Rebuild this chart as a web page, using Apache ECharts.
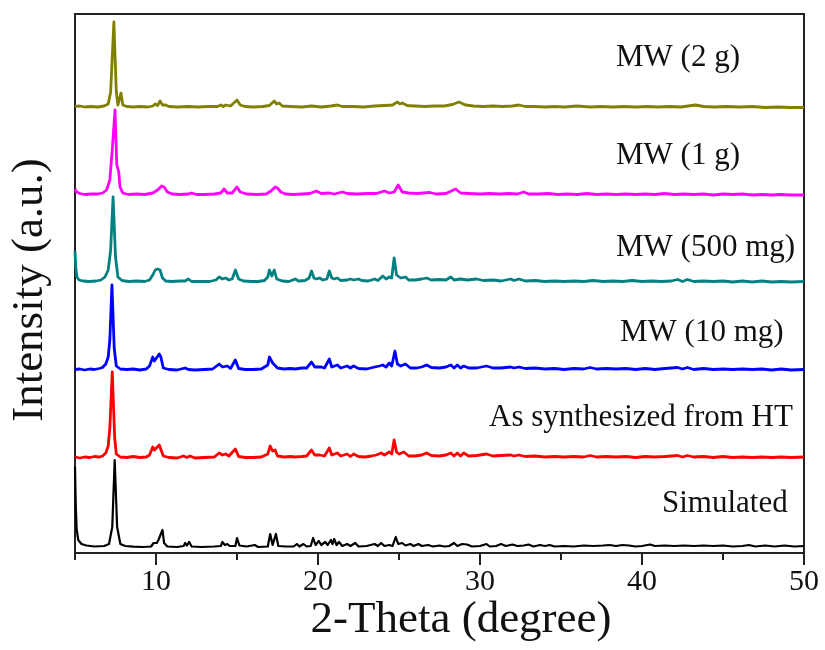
<!DOCTYPE html>
<html>
<head>
<meta charset="utf-8">
<script src="https://cdn.jsdelivr.net/npm/echarts@6/dist/echarts.min.js"></script>
<style>
  html, body { margin: 0; padding: 0; background: #fff; }
  #chart { width: 825px; height: 650px; }
</style>
</head>
<body>
<div id="chart"></div>
<script>
// XRD patterns: [2-theta (deg), relative intensity above each pattern's baseline]
const simulated = [
  [5.0, 80], [5.05, 40], [5.1, 18], [5.2, 7], [5.4, 3], [5.7, 1.5], [6.2, 0.5], [6.8, 1], [7.1, 3], [7.3, 20],
  [7.45, 87], [7.6, 20], [7.8, 3], [8.1, 1], [8.6, 0.3], [9.2, 0], [9.7, 0.5], [9.85, 4], [9.95, 6], [10.05, 4],
  [10.15, 7], [10.25, 5], [10.4, 17], [10.5, 4], [10.7, 0.5], [11.3, 0], [11.7, 1], [11.8, 4], [11.9, 1.5], [12.05, 5],
  [12.2, 0.5], [12.8, 0], [13.6, 0.5], [14.0, 1], [14.1, 5], [14.25, 2], [14.4, 3], [14.55, 1], [14.9, 1], [15.0, 9],
  [15.15, 1.5], [15.6, 0.5], [16.1, 2], [16.3, 0], [16.9, 0.5], [17.05, 13], [17.2, 2], [17.4, 13], [17.55, 1], [18.0, 0.5],
  [18.5, 0.5], [18.7, 3], [18.85, 0.5], [19.1, 3], [19.3, 0.5], [19.55, 1], [19.7, 9], [19.85, 2], [20.05, 6], [20.2, 2],
  [20.45, 5], [20.6, 2], [20.8, 7], [20.9, 3], [21.0, 8], [21.15, 2], [21.3, 5], [21.5, 1], [21.8, 3], [22.0, 1],
  [22.3, 4], [22.5, 0.5], [23.0, 1], [23.5, 3], [23.7, 1], [23.9, 4], [24.1, 1], [24.4, 2], [24.6, 1], [24.8, 10],
  [24.95, 3], [25.2, 4], [25.4, 1.5], [25.7, 3], [25.9, 1], [26.2, 3], [26.4, 1], [26.8, 2], [27.1, 0.5], [27.5, 1.5],
  [27.8, 0.5], [28.1, 1], [28.4, 4], [28.6, 1], [28.9, 3], [29.2, 2.5], [29.5, 0.5], [30.0, 1], [30.4, 3], [30.6, 0.5],
  [31.0, 1], [31.3, 3], [31.6, 1], [32.0, 2.5], [32.3, 1], [32.7, 1.5], [33.0, 2.5], [33.3, 0.5], [33.7, 2], [34.0, 1],
  [34.3, 2], [34.6, 0.5], [35.2, 1], [35.8, 0.5], [36.4, 1.5], [37.0, 1], [37.6, 1.5], [38.0, 2], [38.4, 1], [38.8, 2],
  [39.2, 1.5], [39.6, 0.5], [40.0, 1], [40.5, 2.5], [40.8, 1], [41.4, 1.5], [42.0, 1], [42.6, 1.5], [43.2, 1], [43.8, 1.5],
  [44.4, 1], [45.0, 1.5], [45.6, 0.5], [46.2, 1], [46.6, 2], [47.0, 0.5], [47.6, 1.5], [48.2, 0.5], [48.8, 1.5], [49.4, 0.5],
  [50.0, 1]
];

const hydrothermal = [
  [5.0, 1], [5.3, 0], [5.6, 1], [5.9, 0.5], [6.2, 1.5], [6.5, 1], [6.7, 2], [6.9, 5], [7.05, 12], [7.15, 30],
  [7.3, 86], [7.45, 20], [7.55, 4], [7.8, 1], [8.2, 0.5], [8.6, 1.5], [9.0, 0.5], [9.4, 1], [9.6, 3], [9.8, 11],
  [9.9, 8], [10.0, 9], [10.2, 13], [10.3, 12], [10.45, 2], [10.8, 0.5], [11.3, 0], [11.7, 2], [11.9, 0.5], [12.1, 2],
  [12.4, 0], [13.0, 0.5], [13.6, 1], [13.9, 5], [14.1, 3], [14.3, 4], [14.5, 2], [14.9, 9], [15.1, 1.5], [15.5, 0.5],
  [16.0, 0.5], [16.5, 1], [16.9, 4], [17.05, 12], [17.2, 7], [17.35, 8], [17.5, 2], [17.9, 1], [18.3, 1.5], [18.6, 1],
  [19.0, 1.5], [19.3, 2], [19.6, 8], [19.8, 3], [20.1, 3], [20.4, 2], [20.7, 10], [20.85, 3], [21.2, 5], [21.4, 2],
  [21.8, 4], [22.0, 1.5], [22.2, 4], [22.5, 1.5], [22.9, 1], [23.3, 2], [23.6, 3], [23.9, 5], [24.1, 3], [24.4, 6],
  [24.55, 4], [24.7, 18], [24.85, 6], [25.0, 4], [25.3, 6], [25.6, 2], [26.0, 2], [26.4, 3], [26.7, 5], [27.0, 2.5],
  [27.5, 2], [27.9, 3], [28.2, 5], [28.4, 2], [28.6, 5], [28.8, 2], [29.0, 5], [29.3, 2], [29.8, 2.5], [30.4, 4],
  [30.8, 2], [31.3, 2.5], [31.9, 3], [32.1, 2], [32.4, 3], [32.8, 1.5], [33.4, 2], [34.0, 1], [34.6, 1.5], [35.2, 1],
  [35.8, 1.5], [36.4, 1], [36.8, 2.5], [37.2, 1], [37.8, 1.5], [38.4, 1], [39.0, 1.5], [39.6, 0.5], [40.2, 1.5], [40.8, 1],
  [41.4, 1.5], [42.2, 2.5], [42.5, 1], [42.8, 2.5], [43.2, 1], [43.8, 1.5], [44.4, 0.5], [45.0, 1.5], [45.6, 0.5], [46.2, 1],
  [46.8, 0.5], [47.4, 1], [48.0, 0.5], [48.6, 1], [49.2, 0.5], [50.0, 1]
];

const mw10mg = [
  [5.0, 0.5], [5.3, 1], [5.6, 0], [5.9, 1], [6.2, 0.5], [6.5, 1.5], [6.7, 2.5], [6.9, 6], [7.05, 13], [7.15, 30],
  [7.28, 85], [7.42, 22], [7.55, 4], [7.8, 1], [8.2, 0.5], [8.6, 1], [9.0, 0], [9.4, 1], [9.6, 4], [9.8, 13],
  [9.9, 9], [10.0, 9], [10.2, 16], [10.3, 13], [10.45, 2], [10.8, 0.5], [11.3, 0], [11.8, 2], [12.0, 0.5], [12.1, 2],
  [12.4, 0], [13.0, 0.5], [13.5, 1], [13.9, 6], [14.1, 3], [14.4, 4], [14.6, 1.5], [14.9, 10], [15.1, 1.5], [15.5, 0.5],
  [16.0, 0.5], [16.5, 1], [16.9, 5], [17.0, 13], [17.2, 7], [17.3, 8], [17.5, 2], [17.9, 1], [18.3, 1.5], [18.6, 1],
  [19.0, 2], [19.3, 2], [19.6, 8], [19.8, 3], [20.2, 3], [20.4, 2], [20.7, 11], [20.85, 3], [21.2, 5], [21.4, 2],
  [21.8, 4], [22.0, 2], [22.2, 4], [22.5, 1.5], [23.0, 1], [23.5, 3], [23.8, 4], [24.0, 5], [24.2, 3], [24.4, 7],
  [24.55, 4], [24.75, 19], [24.9, 6], [25.1, 4], [25.4, 6], [25.7, 2], [26.1, 2], [26.4, 3], [26.7, 5], [27.0, 2.5],
  [27.5, 2], [27.9, 3], [28.2, 5], [28.4, 2], [28.6, 5], [28.8, 2], [29.0, 4], [29.3, 2], [29.8, 2], [30.4, 4],
  [30.8, 2], [31.3, 2], [31.9, 3], [32.1, 2], [32.4, 3], [32.8, 1.5], [33.4, 2], [34.0, 1], [34.6, 1.5], [35.2, 0.5],
  [35.8, 1.5], [36.4, 1], [36.8, 2.5], [37.2, 1], [37.8, 1.5], [38.4, 1], [39.0, 1.5], [39.6, 0.5], [40.2, 1.5], [40.8, 0.5],
  [41.4, 1.5], [42.2, 2.5], [42.5, 1], [42.8, 2.5], [43.2, 0.5], [43.8, 1.5], [44.4, 0.5], [45.0, 1], [45.6, 0.5], [46.2, 1],
  [46.8, 0.5], [47.4, 1], [48.0, 0], [48.6, 1], [49.2, 0], [50.0, 0.5]
];

const mw500mg = [
  [5.0, 31], [5.05, 14], [5.12, 5], [5.25, 2], [5.5, 1], [5.9, 0.5], [6.3, 1], [6.6, 2], [6.85, 5], [7.05, 12],
  [7.2, 32], [7.35, 85], [7.5, 25], [7.65, 5], [7.9, 1.5], [8.3, 0.5], [8.8, 1], [9.3, 0.5], [9.6, 2], [9.8, 7],
  [9.95, 12], [10.1, 13], [10.25, 12], [10.4, 4], [10.6, 1], [11.0, 0.5], [11.5, 1], [11.8, 1], [12.0, 3], [12.2, 0.5],
  [12.8, 0.5], [13.3, 0.5], [13.7, 2], [13.9, 5], [14.1, 3], [14.3, 4], [14.5, 2], [14.7, 3], [14.9, 12], [15.1, 3],
  [15.4, 1], [15.9, 0.5], [16.3, 0.5], [16.7, 1.5], [16.9, 5], [17.0, 12], [17.15, 6], [17.3, 12], [17.45, 3], [17.8, 1],
  [18.2, 0.5], [18.6, 3], [18.8, 1], [19.2, 1.5], [19.45, 4], [19.6, 11], [19.75, 4], [19.9, 3], [20.1, 4], [20.3, 2],
  [20.55, 3], [20.7, 11], [20.85, 4], [21.0, 3], [21.2, 4], [21.4, 1.5], [21.8, 2], [22.0, 3], [22.2, 2], [22.5, 3],
  [22.7, 1.5], [23.1, 1], [23.5, 3], [23.7, 1.5], [24.0, 6], [24.2, 3], [24.4, 5], [24.55, 4], [24.7, 24], [24.85, 7],
  [25.1, 4], [25.4, 5], [25.6, 2], [26.0, 2], [26.4, 3], [26.7, 4], [27.0, 2], [27.5, 2.5], [27.9, 2], [28.2, 5],
  [28.4, 2], [28.8, 3], [29.2, 2], [29.8, 3], [30.2, 1.5], [30.8, 2], [31.3, 1], [31.9, 3], [32.1, 1.5], [32.4, 3],
  [32.8, 1], [33.4, 1.5], [34.0, 0.5], [34.6, 1], [35.2, 0.5], [35.8, 1], [36.4, 0.5], [37.0, 1.5], [37.6, 0.5], [38.2, 1],
  [38.8, 0.5], [39.4, 1.5], [40.0, 0.5], [40.6, 1], [41.2, 0.5], [41.8, 1], [42.2, 2.5], [42.5, 0.5], [42.8, 2.5], [43.2, 0.5],
  [43.8, 1], [44.4, 0.5], [45.0, 1], [45.6, 0], [46.2, 1], [46.8, 0], [47.4, 1], [48.0, 0], [48.6, 0.5], [49.2, 0],
  [50.0, 0.5]
];

const mw1g = [
  [5.0, 6], [5.1, 3], [5.3, 1.5], [5.6, 0.5], [6.0, 1], [6.4, 1], [6.7, 2], [6.95, 5], [7.15, 15], [7.3, 45],
  [7.47, 85], [7.58, 30], [7.7, 23], [7.78, 8], [7.95, 2], [8.3, 0.5], [8.8, 1], [9.3, 0.5], [9.8, 2], [10.1, 5],
  [10.35, 9], [10.5, 8], [10.7, 3], [11.0, 1], [11.5, 0.5], [12.0, 1], [12.2, 2], [12.5, 0.5], [13.0, 0.5], [13.6, 1],
  [14.0, 2], [14.2, 6], [14.4, 2], [14.7, 2], [15.0, 8], [15.2, 3], [15.6, 1], [16.2, 0.5], [16.8, 1], [17.1, 4],
  [17.35, 8], [17.5, 7], [17.7, 3], [18.0, 1], [18.5, 0.5], [19.0, 1], [19.5, 1.5], [19.9, 4], [20.2, 1.5], [20.7, 2],
  [21.0, 1], [21.5, 3], [21.8, 1.5], [22.4, 1], [23.0, 1.5], [23.6, 1.5], [24.1, 4], [24.4, 2], [24.7, 3], [24.95, 10],
  [25.2, 3], [25.6, 2], [26.1, 1.5], [26.9, 2.5], [27.3, 1], [27.9, 1.5], [28.5, 6], [28.8, 2], [29.3, 1.5], [30.0, 1],
  [30.6, 1.5], [31.2, 1], [31.8, 1.5], [32.3, 1], [32.7, 3], [33.0, 1], [33.6, 1], [34.2, 1.5], [34.8, 0.5], [35.4, 1],
  [36.0, 0.5], [36.6, 1.5], [37.2, 0.5], [37.8, 1], [38.4, 0.5], [39.0, 1], [39.6, 0.5], [40.2, 1], [40.8, 0.5], [41.4, 1.5],
  [42.0, 0.5], [42.6, 1], [43.2, 0.5], [43.8, 1], [44.4, 0], [45.0, 1], [45.6, 0.5], [46.2, 1], [46.8, 0], [47.4, 0.5],
  [48.0, 0], [48.6, 0.5], [49.2, 0], [50.0, 0]
];

const mw2g = [
  [5.0, 0.5], [5.3, 1], [5.6, 0], [6.0, 0.5], [6.4, 0], [6.8, 1], [7.05, 3], [7.2, 15], [7.4, 85], [7.55, 15],
  [7.65, 2], [7.75, 3], [7.84, 14], [7.95, 2], [8.2, 0.5], [8.6, 0], [9.0, 0.5], [9.5, 0], [9.8, 1], [9.95, 3],
  [10.1, 1.5], [10.25, 6], [10.4, 2], [10.6, 2], [10.8, 0.5], [11.3, 0], [12.0, 0.5], [12.6, 0], [13.2, 0.5], [13.8, 0.5],
  [14.0, 2], [14.15, 0.5], [14.3, 2], [14.6, 1], [15.0, 7], [15.2, 2], [15.5, 0.5], [16.0, 0], [16.6, 0.5], [17.0, 1.5],
  [17.3, 6], [17.45, 3], [17.6, 4], [17.8, 1], [18.3, 0.5], [19.0, 0], [19.6, 1], [20.2, 0], [20.8, 1], [21.2, 2],
  [21.5, 0.5], [22.2, 0.5], [22.8, 0], [23.5, 1], [24.1, 1.5], [24.6, 2], [24.9, 5], [25.05, 3], [25.2, 4], [25.5, 1.5],
  [26.0, 1], [26.6, 0.5], [27.2, 1], [27.8, 1], [28.3, 2.5], [28.7, 5], [29.1, 2], [29.6, 1], [30.2, 0.5], [30.8, 1],
  [31.4, 0.5], [32.0, 1], [32.4, 2], [32.8, 0.5], [33.4, 0.5], [34.0, 0], [34.6, 0.5], [35.2, 0], [36.0, 1], [36.8, 0],
  [37.5, 0.5], [38.2, 0], [38.9, 0.5], [39.6, 0], [40.3, 0.5], [41.0, 0], [41.7, 0.5], [42.4, 0], [43.3, 2], [43.8, 0.5],
  [44.5, 0], [45.2, 0.5], [46.0, 0], [46.8, 0.5], [47.6, -0.5], [48.4, 0], [49.2, -0.5], [50.0, -0.5]
];

// Stacking: vertical offset of each pattern's baseline
const patterns = [simulated, hydrothermal, mw10mg, mw500mg, mw1g, mw2g];
const offsets = [6, 95, 183, 271, 358, 446];
const names = ['Simulated', 'As synthesized from HT', 'MW (10 mg)', 'MW (500 mg)', 'MW (1 g)', 'MW (2 g)'];
const colors = ['#000000', '#ff0000', '#0000ff', '#008080', '#ff00ff', '#808000'];
const lineWidths = [2.2, 2.8, 2.8, 2.8, 2.8, 2.8];

// Label anchor points (left x, vertical centre) beside each pattern
const labelPos = [[662, 505], [489, 419], [620, 334], [616, 249], [616, 157], [616, 59]];

const xTicks = [10, 20, 30, 40, 50];
const xMinorTicks = [5, 15, 25, 35, 45];

const FONT = '"Liberation Serif", "Times New Roman", serif';

const chart = echarts.init(document.getElementById('chart'), null, { renderer: 'canvas' });

const series = patterns.map((pts, i) => ({
  name: names[i],
  type: 'line',
  xAxisIndex: 0,
  yAxisIndex: 0,
  showSymbol: false,
  smooth: false,
  silent: true,
  clip: true,
  lineStyle: { color: colors[i], width: lineWidths[i], join: 'round' },
  z: 3,
  data: pts.map(p => [p[0], p[1] + offsets[i]])
}));

const labelGraphics = names.map((n, i) => ({
  type: 'text',
  left: labelPos[i][0],
  top: labelPos[i][1] - 17,
  style: { text: n, font: '31px ' + FONT, fill: '#111' }
}));

chart.setOption({
  animation: false,
  backgroundColor: '#ffffff',
  grid: {
    left: 75, right: 21, top: 14, bottom: 97,
    show: true, borderColor: '#222', borderWidth: 2, backgroundColor: 'transparent'
  },
  xAxis: [
    {
      type: 'value', min: 5, max: 50,
      axisLine: { show: true, lineStyle: { color: '#222', width: 2 } },
      axisTick: { show: true, inside: false, length: 12, lineStyle: { color: '#222', width: 2 }, customValues: xTicks },
      axisLabel: { show: true, customValues: xTicks, margin: 14, color: '#111', fontSize: 30, fontFamily: FONT },
      splitLine: { show: false }
    },
    {
      type: 'value', min: 5, max: 50, position: 'bottom',
      axisLine: { show: false },
      axisTick: { show: true, inside: false, length: 7, lineStyle: { color: '#222', width: 2 }, customValues: xMinorTicks },
      axisLabel: { show: false },
      splitLine: { show: false }
    }
  ],
  yAxis: {
    type: 'value', min: 0, max: 539,
    axisLine: { show: true, lineStyle: { color: '#222', width: 2 } },
    axisTick: { show: false },
    axisLabel: { show: false },
    splitLine: { show: false }
  },
  series: series,
  graphic: labelGraphics.concat([
    {
      type: 'text', x: 461, y: 598,
      style: { text: '2-Theta (degree)', font: '45px ' + FONT, fill: '#111', align: 'center', verticalAlign: 'top' }
    },
    {
      type: 'text', rotation: Math.PI / 2, x: 8, y: 290,
      style: { text: 'Intensity (a.u.)', font: '45px ' + FONT, fill: '#111', align: 'center', verticalAlign: 'top' }
    }
  ])
});
</script>
</body>
</html>
